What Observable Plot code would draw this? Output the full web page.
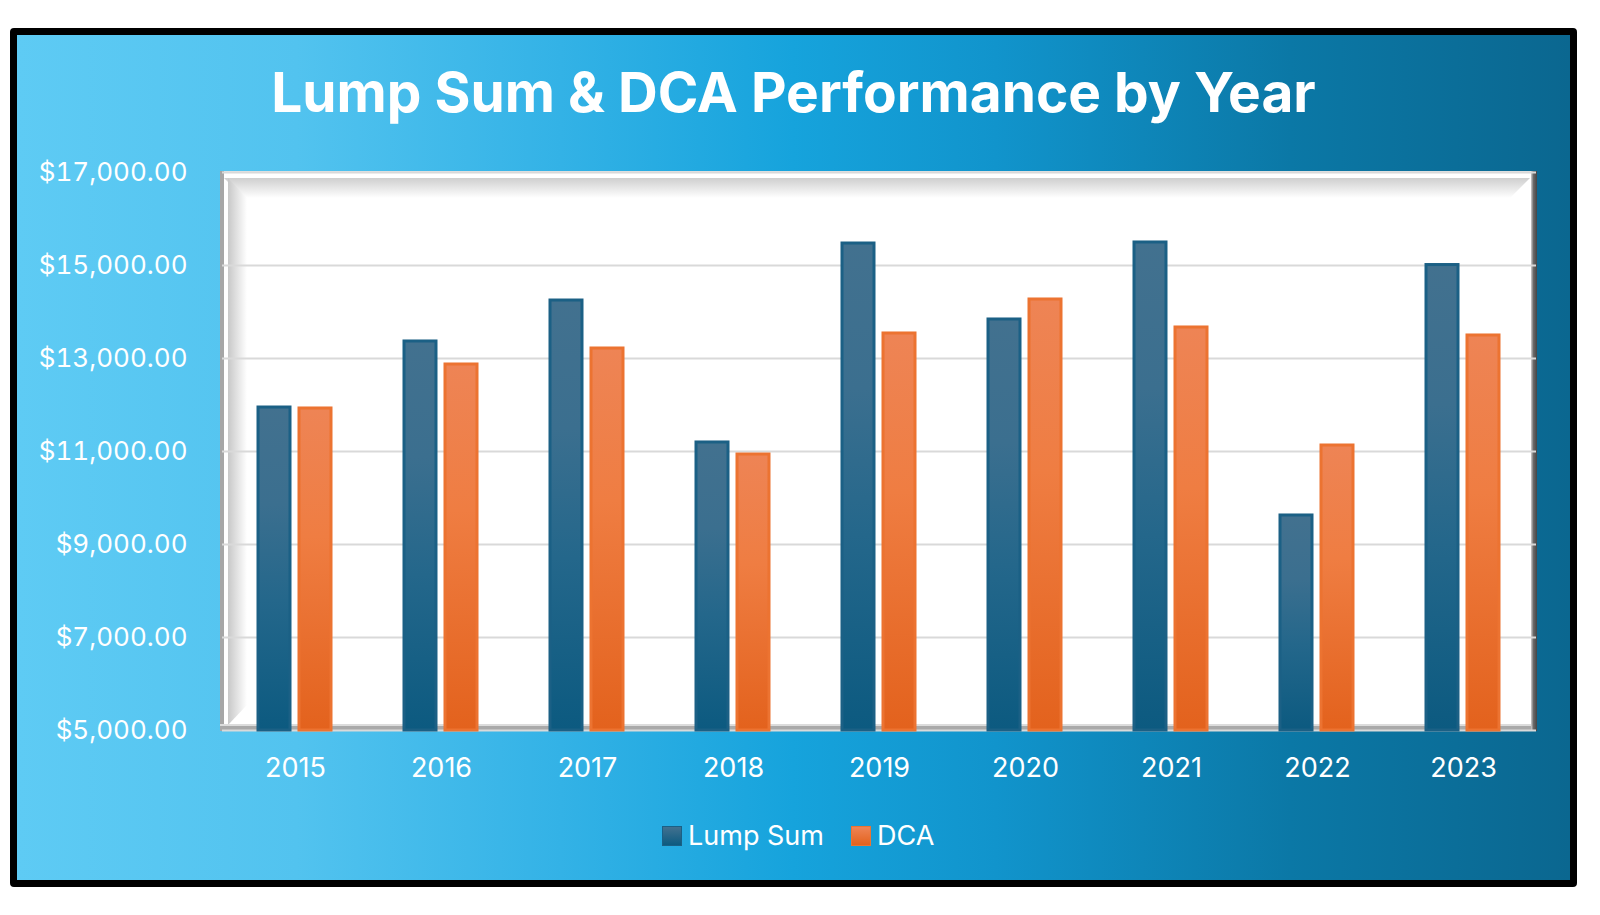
<!DOCTYPE html>
<html>
<head>
<meta charset="utf-8">
<script src="https://cdn.jsdelivr.net/npm/d3@7"></script>
<script src="https://cdn.jsdelivr.net/npm/@observablehq/plot@0.6"></script>
<style>
  html, body { margin: 0; padding: 0; background: #fff; }
  #page { position: relative; width: 1600px; height: 915px; overflow: hidden; background: #fff; }
  #card {
    position: absolute; left: 10px; top: 28px; width: 1567px; height: 859px;
    box-sizing: border-box; border: 7px solid #000; border-radius: 4px;
    background: linear-gradient(90deg, #5ecbf4 0%, #52c3ef 18%, #33b2e6 35%, #16a3dc 50%, #1194cc 63%, #0b78a6 82%, #0b6790 100%);
  }
  #title {
    position: absolute; left: 0; right: 0; top: 30px; text-align: center;
    font-family: Inter, sans-serif; font-weight: 700; font-size: 55px; line-height: 55px; color: #fff;
  }
  #chart { position: absolute; left: 0; top: 115px; }
  #legend {
    position: absolute; left: 645px; top: 786px; display: flex; align-items: center;
    font-family: Inter, sans-serif; font-size: 27px; color: #fff; line-height: 30px;
  }
  .sw { width: 20px; height: 20px; margin-right: 6px; box-sizing: border-box; border: 1.5px solid; }
  .item { display: flex; align-items: center; margin-right: 27px; }
</style>
</head>
<body>
<div id="page">
  <div id="card">
    <div id="title">Lump Sum &amp; DCA Performance by Year</div>
    <div id="chart"></div>
    <div id="legend"></div>
  </div>
</div>
<script>
const years = ["2015", "2016", "2017", "2018", "2019", "2020", "2021", "2022", "2023"];
const seriesNames = ["Lump Sum", "DCA"];
const lumpSum = [11946, 13366, 14247, 11194, 15473, 13839, 15495, 9624, 15010];
const dca = [11925, 12871, 13215, 10935, 13538, 14269, 13667, 11129, 13495];
const yTicks = [5000, 7000, 9000, 11000, 13000, 15000, 17000];
const yMin = 5000, yMax = 17000;

const rowsLS = years.map((y, i) => ({year: y, series: "Lump Sum", value: lumpSum[i]}));
const rowsDCA = years.map((y, i) => ({year: y, series: "DCA", value: dca[i]}));

const fmt = d3.format("$,.2f");

const chart = Plot.plot({
  width: 1553,
  height: 640,
  marginLeft: 203,
  marginRight: 33,
  marginTop: 22,
  marginBottom: 60,
  style: {background: "transparent", fontFamily: "Inter, sans-serif", fontSize: "26px", color: "#fff", overflow: "visible"},
  fx: {domain: years, padding: 0, label: null},
  x: {domain: seriesNames, paddingInner: 0.214, paddingOuter: 0.849, axis: null},
  y: {domain: [yMin, yMax], label: null},
  marks: [
    Plot.gridY(yTicks, {stroke: "#d9d9d9", strokeOpacity: 1, strokeWidth: 2}),
    Plot.axisY(yTicks, {tickSize: 0, tickPadding: 35, tickFormat: fmt, label: null, fill: "#fff", fontSize: 26}),
    Plot.axisFx({anchor: "bottom", tickSize: 0, tickPadding: 27, label: null, fill: "#fff", fontSize: 27}),
    Plot.barY(rowsLS, {fx: "year", x: "series", y1: yMin, y2: "value", fill: "url(#gLS)", stroke: "#1b6085", strokeWidth: 3}),
    Plot.barY(rowsDCA, {fx: "year", x: "series", y1: yMin, y2: "value", fill: "url(#gDCA)", stroke: "#ec7331", strokeWidth: 3})
  ]
});

// gradients + panel decoration
const svg = d3.select(chart);
const defs = svg.insert("defs", ":first-child");
function lg(id, stops, horiz) {
  const g = defs.append("linearGradient").attr("id", id)
    .attr("x1", 0).attr("y1", 0).attr("x2", horiz ? 1 : 0).attr("y2", horiz ? 0 : 1);
  stops.forEach(([o, c]) => g.append("stop").attr("offset", o).attr("stop-color", c));
}
lg("gLS", [[0, "#42718f"], [0.3, "#3b6f8f"], [0.6, "#24678b"], [1, "#0c5a80"]]);
lg("gDCA", [[0, "#ee8455"], [0.4, "#ef7d42"], [1, "#e3621d"]]);
lg("bevTop", [[0, "#cfcfcf"], [1, "#ffffff"]]);
lg("bevLeft", [[0, "#c8c8c8"], [1, "#ffffff"]], true);
lg("rightEdge", [[0, "#d0d0d0"], [0.4, "#6a6a6a"], [1, "#454545"]], true);

const [x0, x1] = chart.scale("fx").range;
const yr = chart.scale("y").range;
const y0 = Math.min(...yr) - 1, y1 = Math.max(...yr) + 1;
const deco = svg.insert("g", "g").attr("class", "panel");
deco.append("rect").attr("x", x0).attr("y", y0).attr("width", x1 - x0).attr("height", y1 - y0).attr("fill", "#fff");
deco.append("rect").attr("x", x0).attr("y", y0).attr("width", x1 - x0).attr("height", 2).attr("fill", "#e4e4e4");
deco.append("polygon").attr("points", [[x0 + 4, y0 + 7], [x1 - 7, y0 + 7], [x1 - 27, y0 + 27], [x0 + 24, y0 + 27]].join(" ")).attr("fill", "url(#bevTop)");
deco.append("polygon").attr("points", [[x0 + 8, y0 + 7], [x0 + 27, y0 + 27], [x0 + 27, y1 - 26], [x0 + 8, y1 - 6]].join(" ")).attr("fill", "url(#bevLeft)");
deco.append("rect").attr("x", x0).attr("y", y0).attr("width", 4).attr("height", y1 - y0).attr("fill", "#a6a6a6");
deco.append("rect").attr("x", x0).attr("y", y1 - 7).attr("width", x1 - x0).attr("height", 2).attr("fill", "#dcdcdc");
deco.append("rect").attr("x", x0).attr("y", y1 - 5).attr("width", x1 - x0).attr("height", 5).attr("fill", "#a9a9a9");
deco.append("rect").attr("x", x1 - 6).attr("y", y0).attr("width", 6).attr("height", y1 - y0).attr("fill", "url(#rightEdge)");

document.getElementById("chart").appendChild(chart);

// legend
const legend = document.getElementById("legend");
const swatchStyles = {
  "Lump Sum": {bg: "linear-gradient(#42718f, #0c5a80)", border: "#1b6085"},
  "DCA": {bg: "linear-gradient(#ee8455, #e3621d)", border: "#ec7331"}
};
seriesNames.forEach(name => {
  const item = document.createElement("div");
  item.className = "item";
  const sw = document.createElement("div");
  sw.className = "sw";
  sw.style.background = swatchStyles[name].bg;
  sw.style.borderColor = swatchStyles[name].border;
  const t = document.createElement("span");
  t.textContent = name;
  item.appendChild(sw);
  item.appendChild(t);
  legend.appendChild(item);
});
</script>
</body>
</html>
